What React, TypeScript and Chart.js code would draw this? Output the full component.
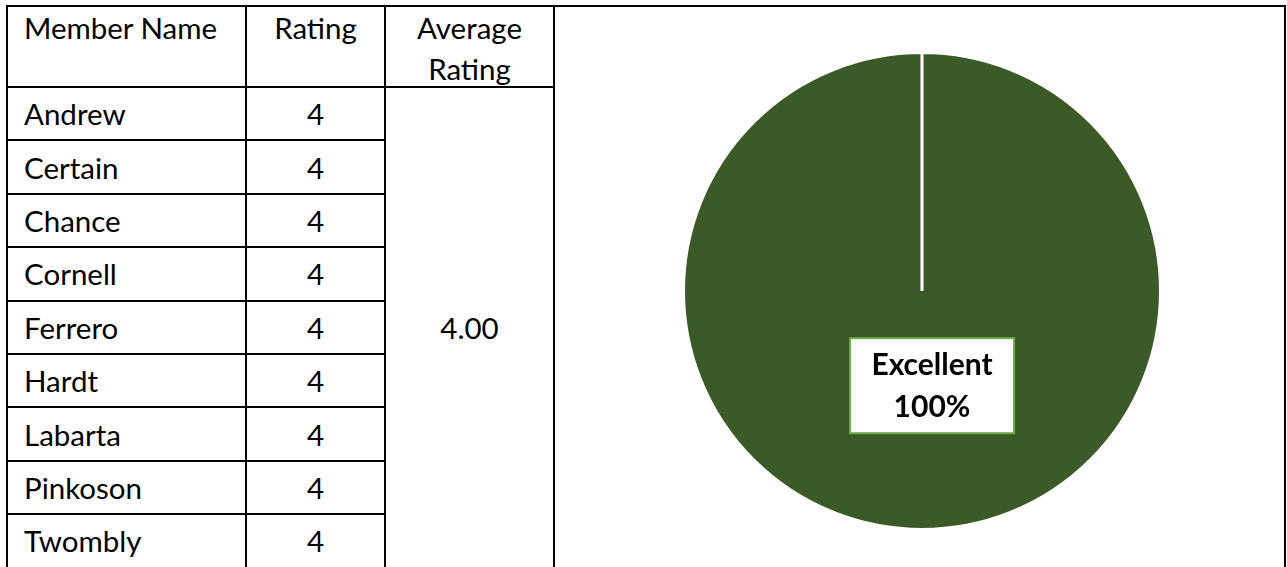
import React, { useEffect, useRef } from "react";
import { Chart, registerables } from "chart.js";

Chart.register(...registerables);

const headers = ["Member Name", "Rating", "Average Rating"];
const memberNames = ["Andrew", "Certain", "Chance", "Cornell", "Ferrero", "Hardt", "Labarta", "Pinkoson", "Twombly"];
const ratings = [4, 4, 4, 4, 4, 4, 4, 4, 4];
const pieLabels = ["Excellent"];
const pieValues = [100];

const COL_X = [7, 246, 385, 554, 1285];
const TOP = 6;
const HEADER_BOTTOM = 87;
const ROW_H = 53.4;
const LINE = 2;
const FONT = "Lato, 'Open Sans', sans-serif";
const TABLE_FONT_SIZE = 29.5;

const PIE_LEFT = 682;
const PIE_TOP = 51;
const PIE_SIZE = 480;
const PIE_RADIUS = 238.5;

const labelPlugin = {
  id: "boxLabel",
  afterDatasetsDraw(chart: any) {
    const meta = chart.getDatasetMeta(0);
    const ctx = chart.ctx;
    const data = chart.data.datasets[0].data as number[];
    const total = data.reduce((a, b) => a + b, 0);
    meta.data.forEach((arc: any, i: number) => {
      const r = arc.outerRadius;
      const cx = arc.x + 0.042 * r;
      const cy = arc.y + 0.397 * r;
      const w = 164;
      const h = 95;
      ctx.save();
      ctx.fillStyle = "#ffffff";
      ctx.fillRect(cx - w / 2, cy - h / 2, w, h);
      ctx.strokeStyle = "#70AD47";
      ctx.lineWidth = 2;
      ctx.strokeRect(cx - w / 2, cy - h / 2, w, h);
      ctx.fillStyle = "#000000";
      ctx.textAlign = "center";
      ctx.textBaseline = "middle";
      ctx.font = `bold 30px ${FONT}`;
      ctx.fillText(String(chart.data.labels[i]), cx, cy - 20.5);
      ctx.fillText(`${Math.round((data[i] / total) * 100)}%`, cx, cy + 22);
      ctx.restore();
    });
  },
};

function PieChart() {
  const ref = useRef<HTMLCanvasElement | null>(null);
  useEffect(() => {
    if (!ref.current) return;
    const chart = new Chart(ref.current, {
      type: "pie",
      data: {
        labels: pieLabels,
        datasets: [
          {
            data: pieValues,
            backgroundColor: ["#3C5A27"],
            borderColor: "#ffffff",
            borderWidth: 3,
            radius: PIE_RADIUS,
          } as any,
        ],
      },
      options: {
        animation: false,
        responsive: false,
        maintainAspectRatio: false,
        layout: { padding: 0 },
        plugins: { legend: { display: false }, tooltip: { enabled: false } },
      },
      plugins: [labelPlugin],
    });
    return () => chart.destroy();
  }, []);
  return (
    <div style={{ position: "absolute", left: PIE_LEFT, top: PIE_TOP, width: PIE_SIZE, height: PIE_SIZE }}>
      <canvas ref={ref} width={PIE_SIZE} height={PIE_SIZE} style={{ width: PIE_SIZE, height: PIE_SIZE }} />
    </div>
  );
}

function HLine({ x1, x2, y }: { x1: number; x2: number; y: number }) {
  return <div style={{ position: "absolute", left: x1 - LINE / 2, top: y - LINE / 2, width: x2 - x1 + LINE, height: LINE, background: "#000" }} />;
}
function VLine({ x, y1, y2 }: { x: number; y1: number; y2: number }) {
  return <div style={{ position: "absolute", left: x - LINE / 2, top: y1 - LINE / 2, width: LINE, height: y2 - y1 + LINE, background: "#000" }} />;
}

export default function App() {
  const n = memberNames.length;
  const bottom = HEADER_BOTTOM + n * ROW_H;
  const avg = ratings.reduce((a, b) => a + b, 0) / ratings.length;
  const textStyle: React.CSSProperties = {
    position: "absolute",
    fontFamily: FONT,
    fontSize: TABLE_FONT_SIZE,
    color: "#000",
    display: "flex",
    alignItems: "center",
    whiteSpace: "nowrap",
    lineHeight: "41px",
  };
  return (
    <div style={{ position: "absolute", left: 0, top: 0, width: 1287, height: 567, overflow: "hidden", background: "#fff" }}>
      <div style={{ ...textStyle, left: COL_X[0] + 17, top: TOP + 1, height: 41 }}>{headers[0]}</div>
      <div style={{ ...textStyle, left: COL_X[1], width: COL_X[2] - COL_X[1], top: TOP + 1, height: 41, justifyContent: "center" }}>{headers[1]}</div>
      <div style={{ ...textStyle, left: COL_X[2], width: COL_X[3] - COL_X[2], top: TOP + 1, height: 82, flexDirection: "column", justifyContent: "flex-start", textAlign: "center" }}>
        {headers[2].split(" ").map((w, i) => (
          <div key={i} style={{ height: 41 }}>{w}</div>
        ))}
      </div>
      {memberNames.map((name, i) => {
        const y = HEADER_BOTTOM + i * ROW_H;
        return (
          <React.Fragment key={name}>
            <div style={{ ...textStyle, left: COL_X[0] + 17, top: y, height: ROW_H }}>{name}</div>
            <div style={{ ...textStyle, left: COL_X[1], width: COL_X[2] - COL_X[1], top: y, height: ROW_H, justifyContent: "center" }}>{ratings[i]}</div>
          </React.Fragment>
        );
      })}
      <div style={{ ...textStyle, left: COL_X[2], width: COL_X[3] - COL_X[2], top: HEADER_BOTTOM, height: bottom - HEADER_BOTTOM, justifyContent: "center" }}>{avg.toFixed(2)}</div>
      <HLine x1={COL_X[0]} x2={COL_X[4]} y={TOP} />
      <HLine x1={COL_X[0]} x2={COL_X[3]} y={HEADER_BOTTOM} />
      {memberNames.slice(0, n - 1).map((_, i) => (
        <HLine key={i} x1={COL_X[0]} x2={COL_X[2]} y={HEADER_BOTTOM + (i + 1) * ROW_H} />
      ))}
      <HLine x1={COL_X[0]} x2={COL_X[4]} y={bottom} />
      {COL_X.map((x, i) => (
        <VLine key={i} x={x} y1={TOP} y2={bottom} />
      ))}
      <PieChart />
    </div>
  );
}
